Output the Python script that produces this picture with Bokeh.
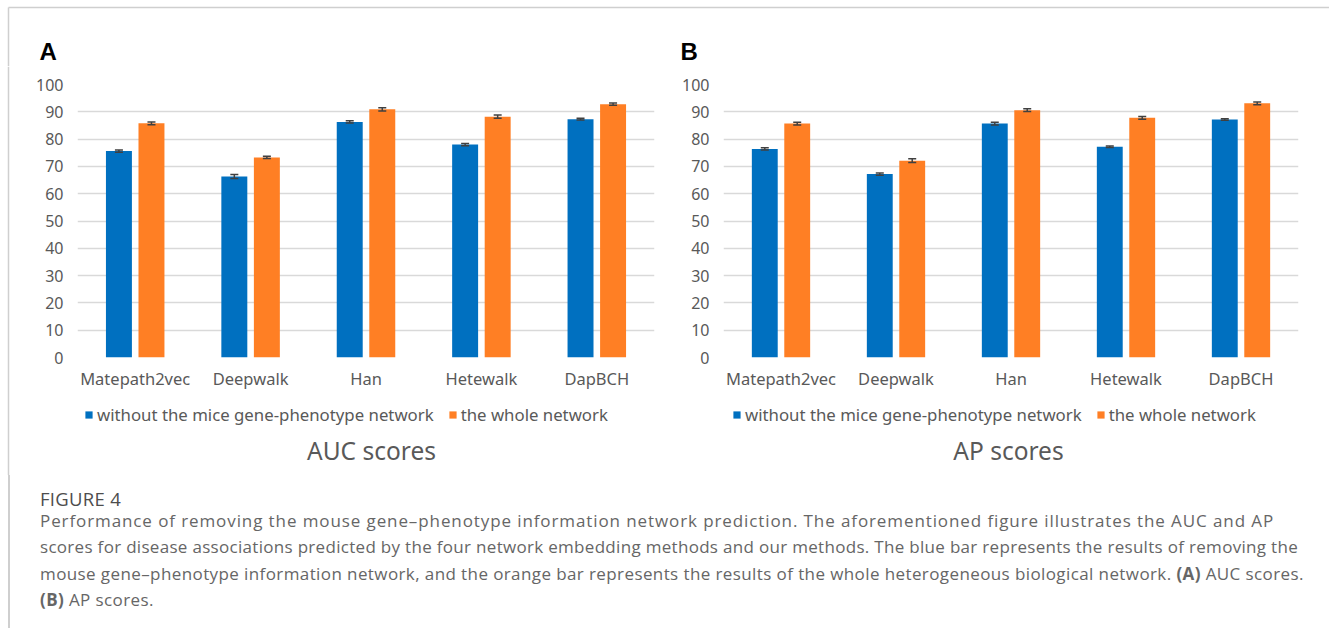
from bokeh.plotting import figure
from bokeh.models import (ColumnDataSource, FactorRange, Range1d, FixedTicker,
                          Legend, LegendItem, Whisker, TeeHead, Label, Div)
from bokeh.core.properties import value
from bokeh.layouts import column, row
from bokeh.transform import dodge
from bokeh.embed import file_html
from bokeh.resources import INLINE

# ---- data -------------------------------------------------------------
methods = ["Matepath2vec", "Deepwalk", "Han", "Hetewalk", "DapBCH"]

auc_without = [75.6, 66.3, 86.3, 78.0, 87.3]
auc_whole = [85.8, 73.3, 90.9, 88.2, 92.8]
auc_without_err = [0.4, 0.7, 0.4, 0.4, 0.3]
auc_whole_err = [0.5, 0.4, 0.6, 0.6, 0.4]

ap_without = [76.4, 67.2, 85.7, 77.2, 87.2]
ap_whole = [85.7, 72.1, 90.6, 87.8, 93.1]
ap_without_err = [0.4, 0.4, 0.5, 0.3, 0.3]
ap_whole_err = [0.5, 0.7, 0.5, 0.5, 0.5]

y_ticks = [0, 10, 20, 30, 40, 50, 60, 70, 80, 90, 100]
series_labels = ["without the mice gene-phenotype network", "the whole network"]
panel_letters = ["A", "B"]

BLUE = "#0070C0"
ORANGE = "#FF7F24"
GRID = "#d9d9d9"
TEXT = "#595959"
FONT = "Noto Sans"
EDGE = "#cfcfcf"


def blank(width, height):
    """A figure whose frame fills the whole canvas, ranges in pixels."""
    f = figure(width=width, height=height, x_range=Range1d(0, width),
               y_range=Range1d(0, height), x_axis_location=None,
               y_axis_location=None, min_border=0, output_backend="svg",
               toolbar_location=None)
    f.outline_line_color = None
    f.xgrid.visible = False
    f.ygrid.visible = False
    return f


def make_chart(width, left, right, without, whole, err_without, err_whole):
    src = ColumnDataSource(dict(
        method=methods,
        without=without,
        whole=whole,
        wo_lo=[v - e for v, e in zip(without, err_without)],
        wo_hi=[v + e for v, e in zip(without, err_without)],
        wh_lo=[v - e for v, e in zip(whole, err_whole)],
        wh_hi=[v + e for v, e in zip(whole, err_whole)],
    ))
    p = figure(x_range=FactorRange(factors=methods, range_padding=0),
               y_range=Range1d(0, 100), width=width, height=329,
               output_backend="svg", toolbar_location=None,
               min_border_left=left, min_border_right=right,
               min_border_top=18, min_border_bottom=38)
    p.outline_line_color = None

    off = 0.141
    bw = 0.225
    p.vbar(x=dodge("method", -off, range=p.x_range), top="without",
           width=bw, source=src, fill_color=BLUE, line_color=None)
    p.vbar(x=dodge("method", off, range=p.x_range), top="whole",
           width=bw, source=src, fill_color=ORANGE, line_color=None)

    for shift, lo, hi in ((-off, "wo_lo", "wo_hi"), (off, "wh_lo", "wh_hi")):
        p.add_layout(Whisker(
            base=dodge("method", shift, range=p.x_range),
            lower=lo, upper=hi, source=src,
            line_color="#404040", line_width=1.5, level="overlay",
            upper_head=TeeHead(size=8, line_color="#404040", line_width=1.5),
            lower_head=TeeHead(size=8, line_color="#404040", line_width=1.5)))

    p.yaxis.ticker = FixedTicker(ticks=y_ticks)
    p.xgrid.grid_line_color = None
    p.ygrid.grid_line_color = GRID
    p.ygrid.grid_line_width = 1.5
    for ax in (p.xaxis, p.yaxis):
        ax.axis_line_color = None
        ax.major_tick_line_color = None
        ax.minor_tick_line_color = None
        ax.major_tick_in = 0
        ax.major_tick_out = 0
        ax.minor_tick_out = 0
        ax.major_label_text_font = FONT
        ax.major_label_text_color = TEXT
    p.yaxis.major_label_text_font_size = "16px"
    p.xaxis.major_label_text_font_size = "16.5px"
    p.yaxis.major_label_standoff = 14
    p.xaxis.major_label_standoff = 9
    return p


def make_key(width, key_x, title_x, title_text):
    """Series key and chart title underneath a chart."""
    f = blank(width, 80)
    # swatch sources for the key: zero-height bars left of the visible range
    r1 = f.vbar(x=[-50], top=[0], width=1, fill_color=BLUE, line_color=None)
    r2 = f.vbar(x=[-50], top=[0], width=1, fill_color=ORANGE, line_color=None)
    legend = Legend(items=[LegendItem(label=series_labels[0], renderers=[r1]),
                           LegendItem(label=series_labels[1], renderers=[r2])],
                    orientation="horizontal", location=(key_x, 49),
                    glyph_width=9, glyph_height=9, label_standoff=4, spacing=14,
                    label_height=20, label_text_font=FONT,
                    label_text_font_size="16.8px", label_text_color=TEXT,
                    border_line_color=None, background_fill_alpha=0,
                    padding=0, margin=0)
    f.add_layout(legend)
    f.add_layout(Label(x=title_x, y=25, x_units="screen", y_units="screen",
                       text=title_text, text_font=FONT, text_font_size="24.5px",
                       text_color=TEXT, text_align="center",
                       text_baseline="middle"))
    return f


pa = make_chart(639, 52, 10, auc_without, auc_whole, auc_without_err, auc_whole_err)
pb = make_chart(665, 59, 31, ap_without, ap_whole, ap_without_err, ap_whole_err)
ka = make_key(639, 59, 346, "AUC scores")
kb = make_key(665, 68, 344, "AP scores")

# top strip: frame edge and panel letters
top = blank(1329, 66)
top.segment(x0=[8, 8], y0=[59, 59], x1=[1329, 8], y1=[59, 0],
            line_color=EDGE, line_width=1.5)
top.text(x=[39, 680], y=[15, 15], text=panel_letters,
         text_font=value("Liberation Sans"), text_font_style="bold",
         text_font_size="24px", text_color="black",
         text_baseline="middle", text_align="left")

# left strip: frame edge
side = blank(25, 409)
side.segment(x0=[8], y0=[0], x1=[8], y1=[409], line_color=EDGE, line_width=1.5)

cap_lines = [
    ("Performance of removing the mouse gene\u2013phenotype information network "
     "prediction. The aforementioned figure illustrates the AUC and AP", 1225, 0.9),
    ("scores for disease associations predicted by the four network embedding "
     "methods and our methods. The blue bar represents the results of removing the",
     1258, 0.3),
    ("mouse gene\u2013phenotype information network, and the orange bar represents the "
     "results of the whole heterogeneous biological network. <b>(A)</b> AUC scores.",
     1248, 0.4),
    ("<b>(B)</b> AP scores.", None, 0.4),
]
cap_html = ""
for txt, w, ls in cap_lines:
    if w:
        cap_html += (f'<div style="width:{w}px;text-align:justify;letter-spacing:{ls}px;'
                     f'text-align-last:justify;white-space:nowrap;">{txt}</div>')
    else:
        cap_html += f'<div style="letter-spacing:{ls}px;">{txt}</div>'

caption = Div(width=1329, height=153, margin=(0, 0, 0, 0), text=(
    '<div style="position:relative;width:1329px;height:153px;'
    'font-family:\'Open Sans\';color:#666666;">'
    f'<div style="position:absolute;background:{EDGE};left:8px;top:0;'
    'width:1.5px;height:153px;"></div>'
    '<div style="position:absolute;left:40px;top:14.5px;font-size:18.5px;'
    'line-height:18px;letter-spacing:0.3px;color:#4d4d4d;">FIGURE 4</div>'
    '<div style="position:absolute;left:40px;top:32.5px;font-size:17px;'
    f'line-height:26.5px;">{cap_html}</div>'
    '</div>'))

layout = column(
    top,
    row(side, column(row(pa, pb, spacing=0), row(ka, kb, spacing=0), spacing=0),
        spacing=0),
    caption,
    spacing=0,
)

open("out.html", "w").write(file_html(layout, INLINE))
